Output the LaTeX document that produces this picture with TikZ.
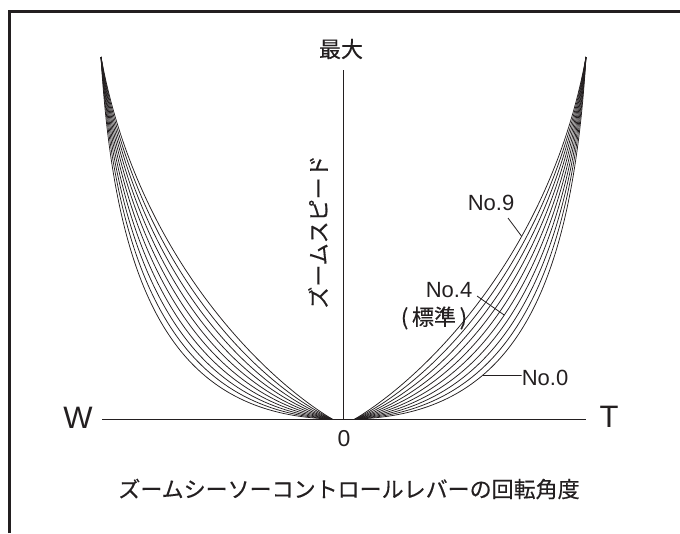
\documentclass[tikz,border=0pt]{standalone}
\usepackage{fontspec}
\setmainfont{Liberation Sans}
\newfontfamily\jp{Noto Sans CJK JP}[FakeBold=0.4]
\definecolor{ink}{HTML}{231F20}
\begin{document}
\begin{tikzpicture}[x=1pt,y=-1pt,
  frameline/.style={line width=3pt, draw=ink},
  axisline/.style={line width=0.9pt, draw=ink},
  curveline/.style={line width=0.75pt, draw=ink},
  leader/.style={line width=0.8pt, draw=ink},
  lab/.style={inner sep=0pt, text=ink, font=\fontsize{22}{22}\selectfont},
  jplab/.style={inner sep=0pt, text=ink, font=\jp\fontsize{22}{22}\selectfont},
  biglab/.style={inner sep=0pt, text=ink, font=\fontsize{31}{31}\selectfont}]
\useasboundingbox (0,0) rectangle (680,533);
% frame
\draw[frameline] (9,533) -- (9,11.5) -- (680,11.5);
% axes
\coordinate (xl) at (102,419);
\coordinate (xr) at (586,419);
\coordinate (yt) at (343,70);
\coordinate (yb) at (343,419);
\draw[axisline] (xl) -- (xr);
\draw[axisline] (yt) -- (yb);
% curves: control points interpolated between No.0 and No.9
\foreach \i in {0,...,9}{
  \pgfmathsetmacro{\f}{\i/9}
  \pgfmathsetmacro{\ax}{150-80*\f}
  \pgfmathsetmacro{\ay}{4+38*\f}
  \pgfmathsetmacro{\bx}{216-21*\f}
  \pgfmathsetmacro{\by}{112+53*\f}
  \pgfmathsetmacro{\rax}{355+\ax}
  \pgfmathsetmacro{\lax}{332-\ax}
  \pgfmathsetmacro{\aay}{419-\ay}
  \pgfmathsetmacro{\rbx}{355+\bx}
  \pgfmathsetmacro{\lbx}{332-\bx}
  \pgfmathsetmacro{\bby}{419-\by}
  \draw[curveline] (355,419) .. controls (\rax,\aay) and (\rbx,\bby) .. (586,57)
     coordinate[pos=0.35] (r\i a) coordinate[pos=0.5] (r\i b) coordinate[pos=0.65] (r\i c);
  \draw[curveline] (332,419) .. controls (\lax,\aay) and (\lbx,\bby) .. (101,57);
}
% labels
\node[jplab] (max) at (341,49) {最大};
\node[biglab] (W) at (78,418) {W};
\node[biglab] (T) at (609,417) {T};
\node[lab, font=\fontsize{23}{23}\selectfont] (zero) at (344,439) {0};
\node[jplab, rotate=90] (speed) at (318,232) {ズームスピード};
\node[jplab] (bottom) at (349,489) {ズームシーソーコントロールレバーの回転角度};
\node[lab] (n9) at (491,203) {No.9};
\node[lab] (n4) at (449,290) {No.4};
\node[jplab] (std) at (434,318) {(\,標準\,)};
\node[lab] (n0) at (545,378) {No.0};
% leaders
\coordinate (l9) at (508,218);
\coordinate (l4) at (477,296);
\draw[leader] (l9) -- (r9c);
\draw[leader] (l4) -- (r4b);
\draw[leader] (r0a) -- (r0a -| n0.west) -- ++(-3,0);
\end{tikzpicture}
\end{document}
